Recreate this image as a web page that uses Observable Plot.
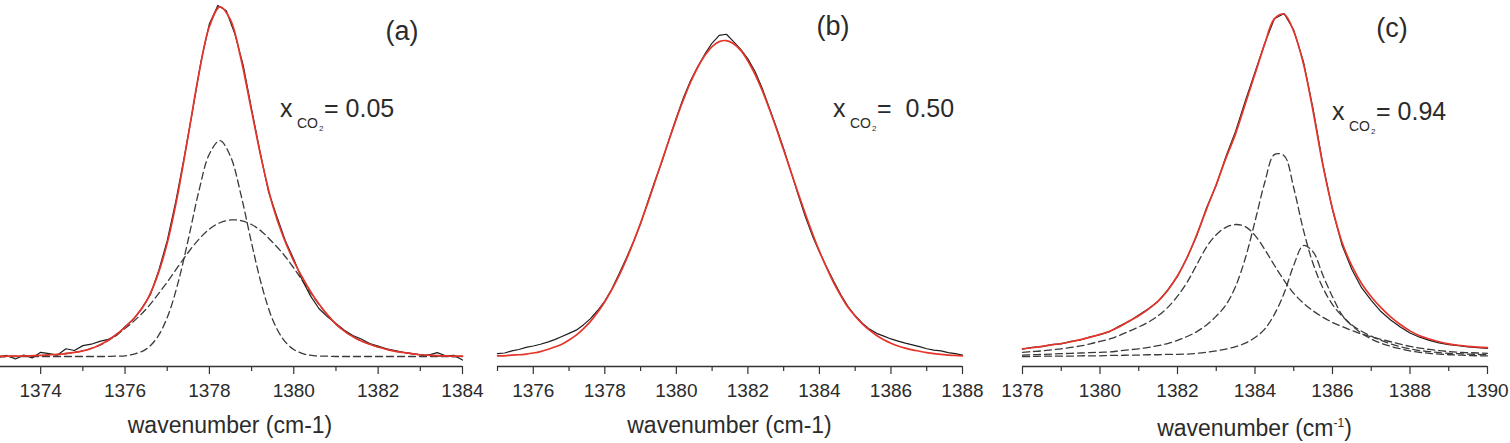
<!DOCTYPE html>
<html>
<head>
<meta charset="utf-8">
<script src="https://cdn.jsdelivr.net/npm/d3@7"></script>
<script src="https://cdn.jsdelivr.net/npm/@observablehq/plot@0.6"></script>
<style>
  html, body { margin: 0; padding: 0; background: #fff; overflow: hidden; }
  #figure { position: relative; width: 1510px; height: 443px; }
  .panel { position: absolute; top: 0; }
</style>
</head>
<body>
<div id="figure"></div>
<script>
// Normalised absorbance shared by the three panels (0 = spectral baseline)
const yDomain = [-0.0285, 1.0142];
const FONT = '"Liberation Sans", Arial, Helvetica, sans-serif';
const INK = "#2b2b2b";

// ---------- (a) x_CO2 = 0.05 ----------
const fitGridA = d3.range(1373, 1384.0001, 0.25);
const fitA = [0.000,0.001,0.001,0.002,0.003,0.005,0.007,0.011,0.016,0.025,0.039,0.059,0.084,0.114,0.156,0.224,
  0.323,0.462,0.631,0.805,0.940,0.996,0.959,0.847,0.699,0.553,0.430,0.341,0.272,0.215,0.166,0.126,
  0.092,0.068,0.050,0.037,0.027,0.019,0.013,0.009,0.005,0.003,0.002,0.001,0.001];
const narrowA = [0,0,0,0,0,0,0,0,0,0,0,0.001,0.002,0.008,0.021,0.052,
  0.111,0.207,0.334,0.471,0.577,0.615,0.570,0.460,0.323,0.198,0.105,0.049,0.020,0.007,0.002,0.001,
  0,0,0,0,0,0,0,0,0,0,0,0,0];
const broadA = [0.000,0.000,0.001,0.002,0.003,0.005,0.007,0.011,0.016,0.025,0.038,0.057,0.080,0.105,0.135,0.172,
  0.212,0.255,0.297,0.334,0.363,0.381,0.389,0.387,0.376,0.355,0.325,0.292,0.252,0.208,0.164,0.125,
  0.092,0.068,0.050,0.037,0.027,0.019,0.013,0.009,0.005,0.003,0.001,0.000,0.000];
const obsGridA = d3.range(1373, 1384.0001, 0.2);
const obsA = [-0.002,0.003,-0.007,0.004,-0.004,0.012,0.008,0.004,0.022,0.017,
  0.031,0.035,0.043,0.049,0.060,0.085,0.106,0.138,0.176,0.245,
  0.330,0.440,0.566,0.700,0.840,0.948,1.000,0.985,0.920,0.830,
  0.705,0.583,0.470,0.398,0.330,0.277,0.218,0.172,0.136,0.113,
  0.094,0.075,0.060,0.050,0.037,0.030,0.022,0.017,0.012,0.008,
  0.005,0.004,0.011,0.002,0.003,-0.010];
const majorA = [1374, 1376, 1378, 1380, 1382, 1384];
const minorA = [1373, 1375, 1377, 1379, 1381, 1383];

// ---------- (b) x_CO2 = 0.50 ----------
const gridB = d3.range(1375, 1388.0001, 0.2);
const fitB = [0.002,0.002,0.004,0.005,0.007,0.010,0.014,0.020,0.027,0.035,
  0.047,0.061,0.079,0.100,0.126,0.156,0.191,0.231,0.276,0.326,
  0.380,0.437,0.497,0.558,0.618,0.677,0.732,0.782,0.824,0.858,
  0.883,0.897,0.900,0.891,0.872,0.842,0.804,0.758,0.705,0.648,
  0.588,0.527,0.467,0.408,0.352,0.300,0.253,0.210,0.173,0.140,
  0.115,0.093,0.075,0.060,0.048,0.038,0.030,0.024,0.019,0.015,
  0.011,0.008,0.006,0.004,0.003,0.002];
const obsB = [0.008,0.010,0.016,0.020,0.026,0.030,0.035,0.041,0.048,0.057,
  0.066,0.075,0.090,0.108,0.131,0.158,0.193,0.236,0.280,0.327,
  0.378,0.440,0.500,0.556,0.620,0.680,0.738,0.786,0.826,0.862,
  0.893,0.915,0.918,0.897,0.875,0.848,0.812,0.764,0.708,0.652,
  0.592,0.528,0.463,0.400,0.345,0.298,0.255,0.214,0.176,0.142,
  0.116,0.095,0.078,0.066,0.058,0.050,0.044,0.038,0.033,0.028,
  0.022,0.018,0.016,0.011,0.008,0.004];
const majorB = [1376, 1378, 1380, 1382, 1384, 1386, 1388];
const minorB = [1375, 1377, 1379, 1381, 1383, 1385, 1387];

// ---------- (c) x_CO2 = 0.94 ----------
const gridC = d3.range(1378, 1390.0001, 0.25);
const fitC = [0.022,0.025,0.029,0.033,0.037,0.042,0.048,0.055,0.063,0.072,0.085,0.101,
  0.116,0.135,0.158,0.189,0.230,0.282,0.348,0.420,0.490,0.565,0.635,0.720,
  0.805,0.890,0.962,0.975,0.926,0.834,0.698,0.546,0.421,0.324,0.258,0.208,
  0.170,0.139,0.113,0.091,0.073,0.059,0.050,0.042,0.036,0.032,0.029,0.027,0.025];
const obsC = [0.021,0.026,0.028,0.034,0.036,0.043,0.047,0.056,0.062,0.071,0.087,0.100,
  0.118,0.136,0.157,0.190,0.228,0.283,0.345,0.424,0.488,0.570,0.642,0.728,
  0.810,0.892,0.962,0.977,0.930,0.840,0.705,0.548,0.418,0.316,0.248,0.196,
  0.160,0.128,0.104,0.084,0.067,0.055,0.046,0.039,0.034,0.031,0.027,0.025,0.023];
const broadC = [0.012,0.014,0.016,0.019,0.022,0.026,0.030,0.036,0.043,0.050,0.060,0.072,
  0.084,0.098,0.116,0.140,0.172,0.212,0.262,0.312,0.347,0.368,0.376,0.370,
  0.345,0.305,0.260,0.217,0.180,0.152,0.130,0.112,0.097,0.085,0.074,0.064,
  0.056,0.049,0.042,0.035,0.029,0.024,0.020,0.017,0.014,0.012,0.011,0.010,0.009];
const centralC = [0.004,0.005,0.006,0.007,0.008,0.009,0.010,0.011,0.012,0.013,0.016,0.019,
  0.022,0.026,0.031,0.037,0.046,0.057,0.071,0.090,0.115,0.147,0.200,0.280,
  0.385,0.495,0.575,0.572,0.480,0.360,0.264,0.196,0.148,0.115,0.090,0.072,
  0.058,0.046,0.036,0.028,0.022,0.017,0.014,0.011,0.009,0.008,0.007,0.006,0.005];
const upperC = [0.000,0.000,0.001,0.001,0.001,0.001,0.002,0.002,0.002,0.003,0.003,0.004,
  0.004,0.005,0.005,0.006,0.006,0.007,0.009,0.012,0.016,0.021,0.028,0.038,
  0.054,0.078,0.120,0.180,0.260,0.316,0.298,0.232,0.170,0.118,0.088,0.066,
  0.050,0.038,0.029,0.022,0.016,0.012,0.009,0.007,0.005,0.004,0.003,0.002,0.002];
const majorC = [1378, 1380, 1382, 1384, 1386, 1388, 1390];
const minorC = [1379, 1381, 1383, 1385, 1387, 1389];

const rows = (xs, ys) => xs.map((x, i) => ({x, y: ys[i]}));

const panels = [
  {left: -2, width: 494, marginLeft: 0, marginRight: 30, domain: [1373, 1384],
   major: majorA, minor: minorA,
   fit: rows(fitGridA, fitA), obs: rows(obsGridA, obsA),
   bands: [rows(fitGridA, narrowA), rows(fitGridA, broadA)],
   letter: {text: "(a)", x: 402, y: 40},
   fraction: {x: 280, y: 117, value: "= 0.05"},
   axisLabelY: 433, superscript: false},
  {left: 472, width: 515, marginLeft: 25, marginRight: 25, domain: [1375, 1388],
   major: majorB, minor: minorB,
   fit: rows(gridB, fitB), obs: rows(gridB, obsB),
   bands: [],
   letter: {text: "(b)", x: 833, y: 35},
   fraction: {x: 833, y: 117, value: "=\u00a0\u00a00.50"},
   axisLabelY: 433, superscript: false},
  {left: 997, width: 515, marginLeft: 25, marginRight: 25, domain: [1378, 1390],
   major: majorC, minor: minorC,
   fit: rows(gridC, fitC), obs: rows(gridC, obsC),
   bands: [rows(gridC, broadC), rows(gridC, centralC), rows(gridC, upperC)],
   letter: {text: "(c)", x: 1392, y: 37},
   fraction: {x: 1332, y: 120, value: "= 0.94"},
   axisLabelY: 436, superscript: true}
];

function drawPanel(p) {
  const svg = Plot.plot({
    width: p.width,
    height: 443,
    marginLeft: p.marginLeft,
    marginRight: p.marginRight,
    marginTop: 0,
    marginBottom: 77,
    style: {background: "transparent", fontFamily: FONT, overflow: "visible"},
    x: {domain: p.domain},
    y: {domain: yDomain, axis: null},
    marks: [
      Plot.ruleY([yDomain[0]], {stroke: "#333", strokeWidth: 1.3}),
      Plot.axisX(p.minor, {tickSize: 5, tickFormat: () => "", stroke: "#333", strokeWidth: 1.2, label: null}),
      Plot.axisX(p.major, {tickSize: 8, tickPadding: 9, tickFormat: "d", fontSize: 19,
        stroke: "#333", fill: INK, strokeWidth: 1.2, label: null}),
      ...p.bands.map(b => Plot.line(b, {x: "x", y: "y", stroke: "#3a3a3a", strokeWidth: 1.3,
        strokeDasharray: "7,4", curve: "catmull-rom"})),
      Plot.line(p.obs, {x: "x", y: "y", stroke: "#1e1e1e", strokeWidth: 1.2}),
      Plot.line(p.fit, {x: "x", y: "y", stroke: "#e5342a", strokeWidth: 1.7, curve: "catmull-rom"})
    ]
  });

  // annotations, written in page coordinates
  const g = d3.select(svg).append("g")
    .attr("transform", `translate(${-p.left},0)`)
    .attr("font-family", FONT)
    .attr("fill", INK);

  const put = (text, x, y, size, anchor = "start") =>
    g.append("text").attr("x", x).attr("y", y).attr("font-size", size)
      .attr("text-anchor", anchor).attr("fill", INK).text(text);

  put(p.letter.text, p.letter.x, p.letter.y, 27, "middle");

  // x with subscript CO2, then the mole fraction
  const f = p.fraction;
  put("x", f.x, f.y, 25);
  put("CO", f.x + 17, f.y + 11, 14);
  put("2", f.x + 39, f.y + 14, 8);
  put(f.value, f.x + 44, f.y, 25);

  const cx = p.left + p.marginLeft + (p.width - p.marginLeft - p.marginRight) / 2;
  const lab = g.append("text")
    .attr("x", cx).attr("y", p.axisLabelY)
    .attr("text-anchor", "middle")
    .attr("font-size", 23).attr("fill", INK);
  if (p.superscript) {
    lab.append("tspan").text("wavenumber (cm");
    lab.append("tspan").attr("dy", -9).attr("font-size", 12).text("-1");
    lab.append("tspan").attr("dy", 9).text(")");
  } else {
    lab.text("wavenumber (cm-1)");
  }

  const holder = document.createElement("div");
  holder.className = "panel";
  holder.style.left = p.left + "px";
  holder.style.width = p.width + "px";
  holder.appendChild(svg);
  return holder;
}

const figure = document.getElementById("figure");
panels.forEach(p => figure.appendChild(drawPanel(p)));
</script>
</body>
</html>
